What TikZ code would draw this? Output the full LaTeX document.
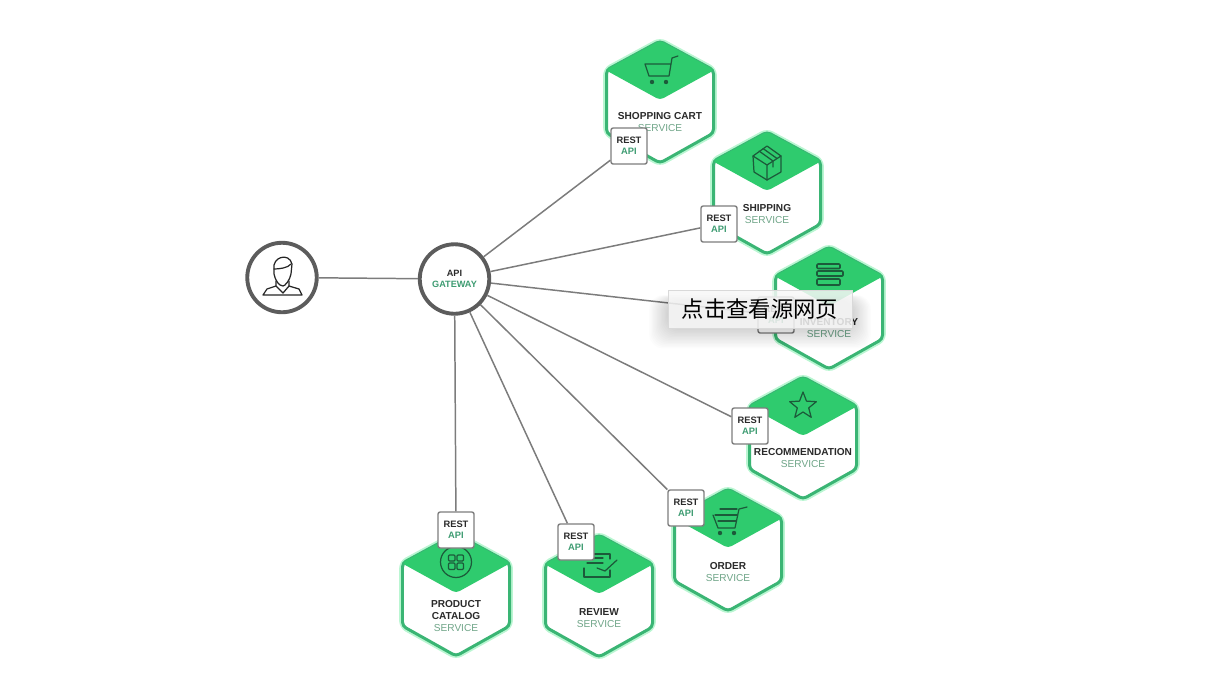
\documentclass[tikz,border=0pt]{standalone}
\usepackage{fontspec}
\setmainfont{Liberation Sans}
\newfontfamily\cjk{Noto Sans CJK SC}
\definecolor{hexgreen}{HTML}{2FCB6E}
\definecolor{hexedge}{HTML}{3AB574}
\definecolor{hexglow}{HTML}{8CF0B4}
\definecolor{icondark}{HTML}{1C5A3A}
\definecolor{tagtext}{HTML}{6FA588}
\definecolor{apitext}{HTML}{3E9C72}
\definecolor{ringgray}{HTML}{5C5C5C}
\definecolor{linkgray}{HTML}{7C7C7C}
\definecolor{titletext}{HTML}{2A2A2A}
\begin{document}
\begin{tikzpicture}[
  x=0.02cm, y=-0.02cm,
  svclabel/.style={align=center, inner sep=0pt, text=titletext, font=\fontsize{5.75}{6.9}\selectfont\bfseries},
  ring/.style={circle, draw=ringgray, line width=2.2pt, fill=white, inner sep=0pt, minimum size=1.39cm},
  restbox/.style={draw=ringgray!80, line width=0.8pt, rounded corners=1.2pt, fill=white, inner sep=0pt,
    minimum size=0.72cm, align=center, text=titletext, font=\fontsize{5.3}{6.3}\selectfont\bfseries},
  link/.style={linkgray, line width=0.85pt},
  icon/.style={icondark, line width=0.7pt, line join=round, line cap=round},
  popup/.style={draw=gray!30, line width=0.4pt, fill=gray!6, fill opacity=0.85, text opacity=1,
    minimum width=3.68cm, minimum height=0.76cm, inner sep=0pt, font=\fontsize{12.7}{14}\selectfont},
  hexa/.pic={
    \draw[hexglow, line width=3.8pt, rounded corners=3pt, opacity=0.6] (0,0) -- (53.5,29) -- (53.5,92) -- (0,122) -- (-53.5,92) -- (-53.5,29) -- cycle;
    \draw[hexedge, line width=1.7pt, rounded corners=2.2pt, fill=white] (0,0) -- (53.5,29) -- (53.5,92) -- (0,122) -- (-53.5,92) -- (-53.5,29) -- cycle;
    \fill[hexgreen, rounded corners=2.2pt] (0,-0.5) -- (54.5,29) -- (0,59) -- (-54.5,29) -- cycle;
  },
  carticon/.pic={
    \draw[icon] (18,15) -- (12,17) -- (9,35) -- (-11,35) -- (-15,23) -- (11,23);
    \fill[icondark] (-8,41) circle (2.2) (6,41) circle (2.2);
  },
  boxicon/.pic={
    \draw[icon] (0,14) -- (14,24) -- (14,40) -- (0,48) -- (-13,40) -- (-14,24) -- cycle;
    \draw[icon] (-14,24) -- (0,33) -- (14,24) (0,33) -- (0,48);
    \draw[icon] (-8,19) -- (6,29) (-4,16.5) -- (10,26.5) (6,29) -- (6,35);
  },
  stackicon/.pic={
    \draw[icon, line width=0.9pt, rounded corners=0.5pt] (-12,17) rectangle (11,21.5)
      (-12,24) rectangle (14,29) (-12,32) rectangle (11,38);
  },
  staricon/.pic={
    \draw[icon, shift={(0,29)}] (0,-14) -- (3.5,-4.9) -- (13.3,-4.3) -- (5.7,1.9) -- (8.2,11.3) -- (0,6)
      -- (-8.2,11.3) -- (-5.7,1.9) -- (-13.3,-4.3) -- (-3.5,-4.9) -- cycle;
  },
  ordericon/.pic={
    \draw[icon] (19,18) -- (11,20) -- (7,39) -- (-10,39) -- (-15,26);
    \draw[icon] (-8,20) -- (9,20) (-13,26) -- (9,26) (-10,32) -- (8,32);
    \fill[icondark] (-8,44) circle (2.2) (6,44) circle (2.2);
  },
  reviewicon/.pic={
    \draw[icon] (-6,19) -- (11,19) -- (11,24) (-6,23) -- (4,23) (-12,28) -- (4,28);
    \draw[icon] (-2,33) -- (6,36) -- (18,25);
    \draw[icon] (-15,33) -- (-15,42) -- (11,42) -- (11,35);
  },
  gridicon/.pic={
    \draw[icon] (0,28) circle (15.5);
    \draw[icon, rounded corners=0.6pt] (-7.5,21) rectangle (-1,27) (1,21) rectangle (7.5,27)
      (-7.5,29) rectangle (-1,35.5) (1,29) rectangle (7.5,35.5);
  },
  usericon/.pic={
    \draw[icon, ringgray!40!black] (-8,-8) .. controls (-10,-20) and (7,-25) .. (10,-13) -- (9,-3)
      .. controls (8,3) and (3,9) .. (1,9) .. controls (-3,9) and (-7,3) .. (-8,-3) -- cycle;
    \draw[icon, ringgray!40!black] (-8,-8) .. controls (-3,-8) and (6,-9) .. (9,-13);
    \draw[icon, ringgray!40!black] (-6,4) -- (-6,9) -- (-15,12) -- (-19,18) -- (20,18) -- (17,12) -- (7,9) -- (7,4);
    \draw[icon, ringgray!40!black] (-6,9) -- (1,16) -- (7,9);
  }
]
\useasboundingbox (0,0) rectangle (1220,694);

% Service hexagons, each placed by its top corner
\pic at (660,41) {hexa};
\pic at (660,41) {carticon};
\node[svclabel] (cartlabel) at (660,122) {SHOPPING CART\\\textcolor{tagtext}{\mdseries SERVICE}};

\pic at (767,132) {hexa};
\pic at (767,132) {boxicon};
\node[svclabel] (shiplabel) at (767,214) {SHIPPING\\\textcolor{tagtext}{\mdseries SERVICE}};

\pic at (829,247) {hexa};
\pic at (829,247) {stackicon};
\node[svclabel] (stocklabel) at (829,328) {INVENTORY\\\textcolor{tagtext}{\mdseries SERVICE}};

\pic at (803,377) {hexa};
\pic at (803,377) {staricon};
\node[svclabel] (ratelabel) at (803,458) {RECOMMENDATION\\\textcolor{tagtext}{\mdseries SERVICE}};

\pic at (728,489) {hexa};
\pic at (728,489) {ordericon};
\node[svclabel] (orderlabel) at (728,572) {ORDER\\\textcolor{tagtext}{\mdseries SERVICE}};

\pic at (599,535) {hexa};
\pic at (599,535) {reviewicon};
\node[svclabel] (reviewlabel) at (599,618) {REVIEW\\\textcolor{tagtext}{\mdseries SERVICE}};

\pic at (456,534) {hexa};
\pic at (456,534) {gridicon};
\node[svclabel] (catlabel) at (456,616) {PRODUCT\\CATALOG\\\textcolor{tagtext}{\mdseries SERVICE}};

% Client and gateway
\node[ring] (client) at (282,277.5) {};
\pic at (282,277) {usericon};
\node[ring, svclabel, text=titletext, font=\fontsize{5.2}{6.4}\selectfont\bfseries] (gateway) at (454.5,279) {API\\\textcolor{apitext}{GATEWAY}};

% REST endpoints sitting on the hexagons
\foreach \boxname/\x/\y in {restcart/629/146, restship/719/224, reststock/776/315, restrate/750/426,
  restorder/686/508, restreview/576/542, restcat/456/530}{
  \node[restbox] (\boxname) at (\x,\y) {REST\\\textcolor{apitext}{API}};
}

% Connectors
\draw[link] (client) -- (gateway);
\foreach \boxname in {restcart, restship, reststock, restrate, restorder, restreview, restcat}{
  \draw[link] (gateway) -- (\boxname);
}

% Soft shadow under the overlay label
\foreach \i in {1,...,16}{
  \fill[black, opacity=0.01, rounded corners=8pt] (670-1.3*\i,300-0.3*\i) rectangle (850+1.3*\i,326+1.4*\i);
}
\node[popup] (viewsource) at (760,309) {\cjk 点击查看源网页};

\end{tikzpicture}
\end{document}
